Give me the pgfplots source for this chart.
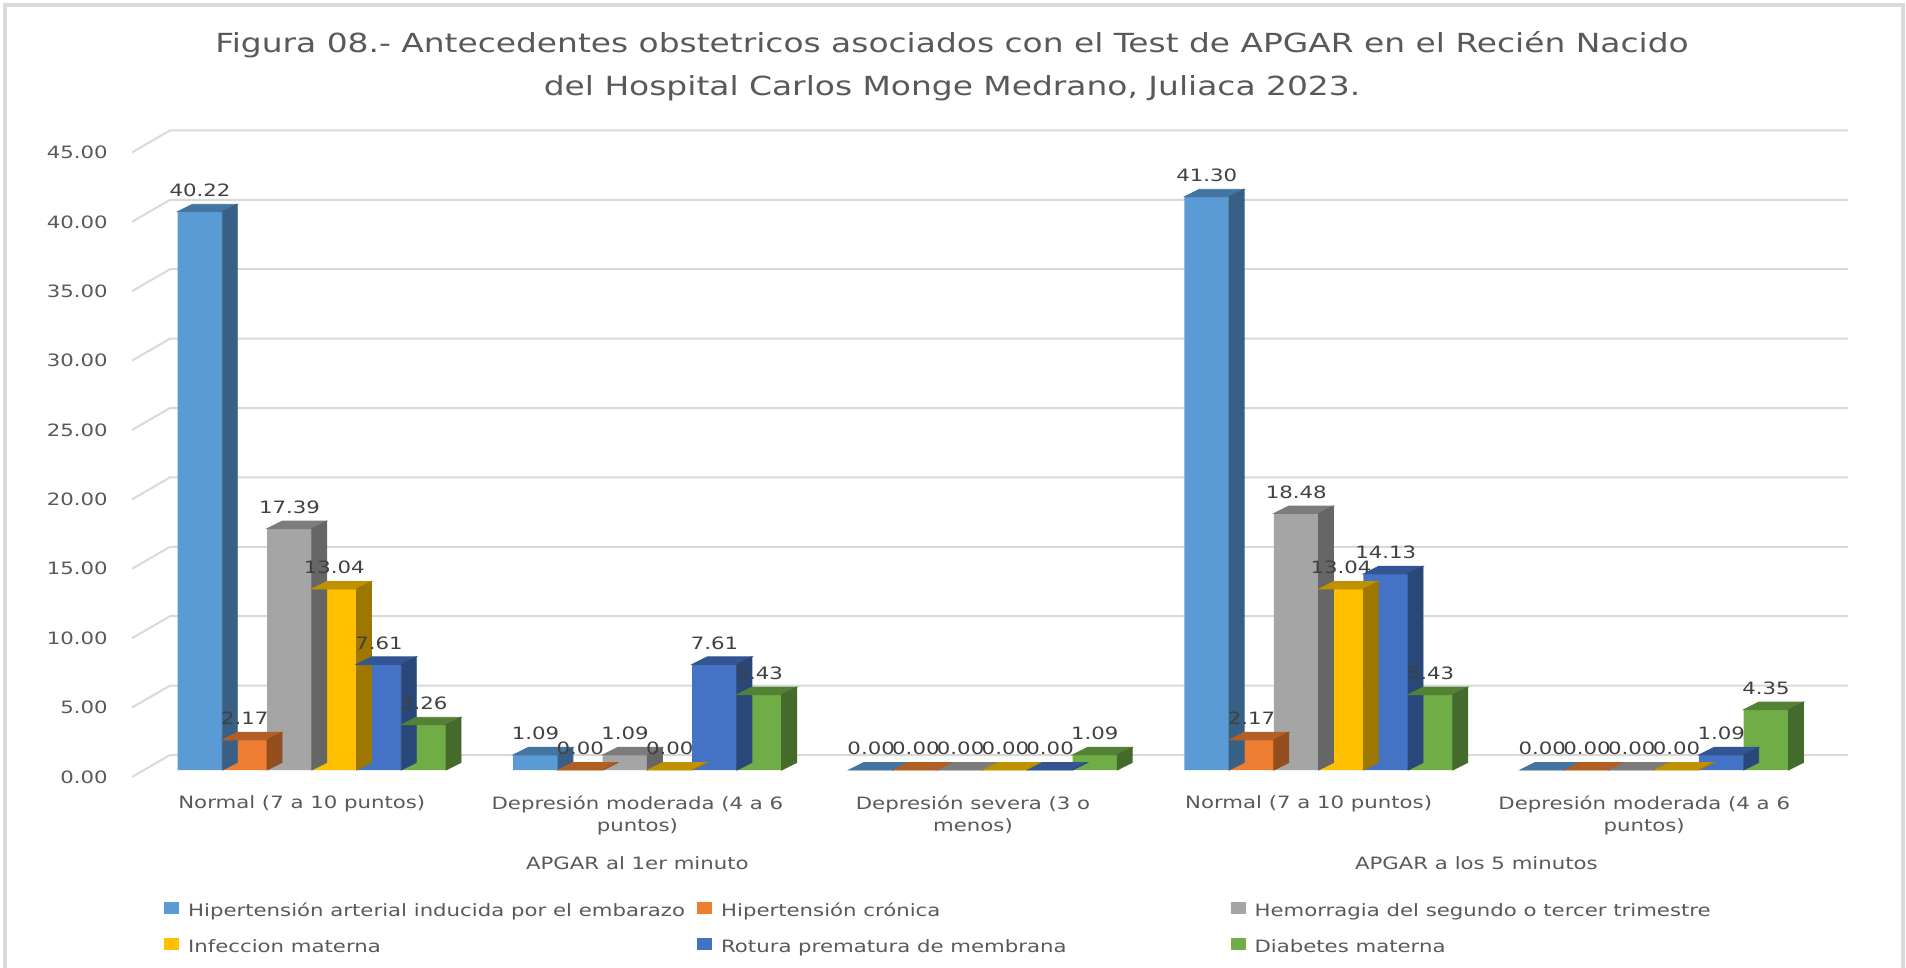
\documentclass[border=0pt]{standalone}
\usepackage{pgfplots}
\pgfplotsset{compat=1.18}
\usepackage{pgfplotstable}
\usepackage{fontspec}
\setmainfont{DejaVu Sans}[FakeStretch=1.25]
\definecolor{cA}{HTML}{5B9BD5}
\definecolor{cB}{HTML}{ED7D31}
\definecolor{cC}{HTML}{A5A5A5}
\definecolor{cD}{HTML}{FFC000}
\definecolor{cE}{HTML}{4472C4}
\definecolor{cF}{HTML}{70AD47}
\definecolor{txt}{HTML}{595959}
\definecolor{lbl}{HTML}{404040}
\definecolor{gridc}{HTML}{D9D9D9}

\pgfplotstableread{
k s1 s2 s3 s4 s5 s6
0 40.22 2.17 17.39 13.04 7.61 3.26
1 1.09 0.00 1.09 0.00 7.61 5.43
2 0.00 0.00 0.00 0.00 0.00 1.09
3 41.30 2.17 18.48 13.04 14.13 5.43
4 0.00 0.00 0.00 0.00 1.09 4.35
}\datatable

\newcommand\lblfont{\fontsize{8.5}{11}\selectfont}
\pgfdeclareplotmark{nothing}{}
\pgfplotsset{
  /pgf/number format/assume math mode=true,
  front/.style={ybar, bar width=22.35pt, bar shift=0pt, draw=none, fill=#1, forget plot,
    nodes near coords={\pgfmathprintnumber[fixed,fixed zerofill,precision=2]{\pgfplotspointmeta}},
    every node near coord/.append style={font=\lblfont, text=lbl, anchor=south, inner sep=0pt, yshift=7.3pt}},
  cube/.style n args={2}{scatter, only marks, mark=nothing, forget plot,
    visualization depends on={y \as \rawv},
    scatter/@pre marker code/.code={%
      \pgfkeys{/pgf/fpu=true}%
      \pgfmathparse{\rawv*6.94}%
      \pgfmathfloattofixed{\pgfmathresult}\let\hh=\pgfmathresult
      \pgfkeys{/pgf/fpu=false}%
      \fill[#1] (-11.175pt,0pt) -- (11.175pt,0pt) -- (18.675pt,3.75pt) -- (-3.675pt,3.75pt) -- cycle;
      \fill[#2] (11.175pt,0pt) -- (18.675pt,3.75pt) -- (18.675pt,3.75pt-\hh pt) -- (11.175pt,-\hh pt) -- cycle;
    },
    scatter/@post marker code/.code={}},
  limg/.style={legend image code/.code={\fill[#1] (0pt,-0.75pt) rectangle (7pt,4.75pt);}},
}

\begin{document}
\begin{tikzpicture}
\useasboundingbox (0,0) rectangle (953pt,-484pt);
\draw[gridc, line width=2pt] (2.5pt,-500pt) -- (2.5pt,-2.5pt) -- (951.5pt,-2.5pt) -- (951.5pt,-500pt);
\node[align=center, font=\fontsize{13.15}{21.5}\selectfont, text=txt] at (476pt,-33.25pt)
  {Figura 08.- Antecedentes obstetricos asociados con el Test de APGAR en el Recién Nacido\\del Hospital Carlos Monge Medrano, Juliaca 2023.};
\begin{axis}[
  at={(72pt,-385pt)}, anchor=south west,
  scale only axis, width=839pt, height=312.3pt,
  xmin=-0.5, xmax=4.5, ymin=0, ymax=45,
  clip=false,
  axis line style={draw=none}, tick style={draw=none},
  xtick={0,...,4},
  xticklabels={Normal (7 a 10 puntos), {Depresión moderada (4 a 6\\puntos)}, {Depresión severa (3 o\\menos)}, Normal (7 a 10 puntos), {Depresión moderada (4 a 6\\puntos)}},
  xticklabel style={align=center, anchor=north, inner sep=0pt, yshift=-12.5pt, xshift=-5pt, font=\lblfont, text=txt},
  ytick={0,5,...,45},
  yticklabel={\pgfmathprintnumber[fixed,fixed zerofill,precision=2]{\tick}},
  yticklabel style={anchor=east, inner sep=0pt, xshift=-18pt, yshift=-3.5pt, font=\lblfont, text=txt},
  legend columns=3, legend cell align=left,
  legend style={draw=none, fill=none, at={(0.0083,-0.2001)}, anchor=north west, font=\lblfont, text=txt,
    row sep=5.75pt, /tikz/every odd column/.append style={column sep=2.5pt}},
]
\pgfplotsinvokeforeach{0,5,...,45}{%
  \draw[gridc, line width=1pt] ([shift={(-6pt,-3.5pt)}]axis cs:-0.5,#1) -- ([shift={(13pt,7.5pt)}]axis cs:-0.5,#1) -- ([shift={(13pt,7.5pt)}]axis cs:4.5,#1);
}
\addplot[front=cA] table[x expr=\thisrow{k}-0.3333, y=s1] {\datatable};
\addplot[cube={cA!75!black}{cA!62!black}] table[x expr=\thisrow{k}-0.3333, y=s1] {\datatable};
\addplot[front=cB] table[x expr=\thisrow{k}-0.2, y=s2] {\datatable};
\addplot[cube={cB!75!black}{cB!62!black}] table[x expr=\thisrow{k}-0.2, y=s2] {\datatable};
\addplot[front=cC] table[x expr=\thisrow{k}-0.0667, y=s3] {\datatable};
\addplot[cube={cC!75!black}{cC!62!black}] table[x expr=\thisrow{k}-0.0667, y=s3] {\datatable};
\addplot[front=cD] table[x expr=\thisrow{k}+0.0667, y=s4] {\datatable};
\addplot[cube={cD!75!black}{cD!62!black}] table[x expr=\thisrow{k}+0.0667, y=s4] {\datatable};
\addplot[front=cE] table[x expr=\thisrow{k}+0.2, y=s5] {\datatable};
\addplot[cube={cE!75!black}{cE!62!black}] table[x expr=\thisrow{k}+0.2, y=s5] {\datatable};
\addplot[front=cF] table[x expr=\thisrow{k}+0.3333, y=s6] {\datatable};
\addplot[cube={cF!75!black}{cF!62!black}] table[x expr=\thisrow{k}+0.3333, y=s6] {\datatable};

\addlegendimage{limg=cA}
\addlegendentry{\makebox[252.6pt][l]{Hipertensión arterial inducida por el embarazo}}
\addlegendimage{limg=cB}
\addlegendentry{\makebox[252.8pt][l]{Hipertensión crónica}}
\addlegendimage{limg=cC}
\addlegendentry{Hemorragia del segundo o tercer trimestre}
\addlegendimage{limg=cD}
\addlegendentry{\makebox[252.6pt][l]{Infeccion materna}}
\addlegendimage{limg=cE}
\addlegendentry{\makebox[252.8pt][l]{Rotura prematura de membrana}}
\addlegendimage{limg=cF}
\addlegendentry{Diabetes materna}

\node[font=\lblfont, text=txt] at ([xshift=-5pt,yshift=-46.5pt]axis cs:1,0) {APGAR al 1er minuto};
\node[font=\lblfont, text=txt] at ([xshift=-5pt,yshift=-46.5pt]axis cs:3.5,0) {APGAR a los 5 minutos};
\end{axis}
\end{tikzpicture}
\end{document}
